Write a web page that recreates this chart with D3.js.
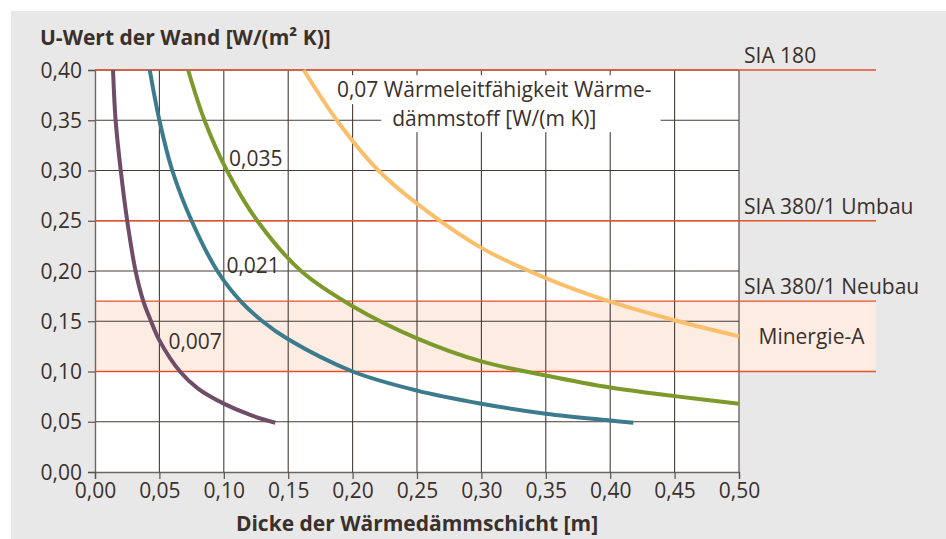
<!DOCTYPE html>
<html>
<head>
<meta charset="utf-8">
<script src="https://cdn.jsdelivr.net/npm/d3@7"></script>
<style>
  html, body { margin: 0; padding: 0; background: #ffffff; }
  svg { display: block; }
  text { font-family: "Open Sans", "Noto Sans", sans-serif; fill: #3a302c; }
</style>
</head>
<body>
<svg id="chart" width="946" height="539"></svg>
<script>
// ---------------- data ----------------
const xTickValues = [0, 0.05, 0.10, 0.15, 0.20, 0.25, 0.30, 0.35, 0.40, 0.45, 0.50];
const yTickValues = [0, 0.05, 0.10, 0.15, 0.20, 0.25, 0.30, 0.35, 0.40];

// insulation thickness [m] and U-value [W/(m2 K)] per conductivity
const seriesNames = ["0,007", "0,021", "0,035", "0,07"];
const thick007 = [0.014, 0.016, 0.020, 0.025, 0.0315, 0.0375, 0.0435, 0.050, 0.066, 0.080, 0.100, 0.120, 0.140];
const uval007  = [0.400, 0.350, 0.300, 0.250, 0.200, 0.170, 0.150, 0.131, 0.100, 0.083, 0.068, 0.057, 0.049];
const thick021 = [0.0425, 0.050, 0.060, 0.075, 0.095, 0.113, 0.130, 0.150, 0.200, 0.250, 0.300, 0.350, 0.400, 0.418];
const uval021  = [0.400, 0.350, 0.300, 0.250, 0.200, 0.170, 0.150, 0.132, 0.100, 0.081, 0.068, 0.058, 0.0512, 0.049];
const thick035 = [0.0723, 0.085, 0.1024, 0.126, 0.160, 0.200, 0.250, 0.300, 0.350, 0.400, 0.450, 0.500];
const uval035  = [0.400, 0.350, 0.300, 0.250, 0.200, 0.165, 0.133, 0.110, 0.096, 0.084, 0.0755, 0.068];
const thick07  = [0.162, 0.190, 0.220, 0.250, 0.300, 0.350, 0.400, 0.450, 0.500];
const uval07   = [0.400, 0.346, 0.300, 0.267, 0.223, 0.193, 0.1695, 0.151, 0.135];
const seriesColors = ["#6f4c68", "#3b7b8d", "#7c9a2c", "#fbbf6c"];

// limit values
const limitValues = [0.40, 0.25, 0.17, 0.10];
const limitLabels = ["SIA 180", "SIA 380/1 Umbau", "SIA 380/1 Neubau", ""];
const bandRange = [0.10, 0.17];
const bandLabel = "Minergie-A";

// label anchors in data coordinates
const seriesLabelX = [0.057, 0.102, 0.104];
const seriesLabelY = [0.122, 0.1977, 0.3045];
const noteLines = ["0,07 Wärmeleitfähigkeit Wärme-", "dämmstoff [W/(m K)]"];
const noteAnchor = [0.31, 0.373];

const yTitle = "U-Wert der Wand [W/(m² K)]";
const xTitle = "Dicke der Wärmedämmschicht [m]";

// ---------------- layout ----------------
(function () {
const svg = d3.select("#chart");
const W = 946, H = 539;
const pL = 95, pR = 739, pT = 70, pB = 472, extRight = 876;
const fs = 21;

const x = d3.scaleLinear().domain([0, 0.5]).range([pL, pR]);
const y = d3.scaleLinear().domain([0, 0.4]).range([pB, pT]);
const fmt = v => d3.format(".2f")(v).replace(".", ",");

// background
svg.append("rect").attr("x", 11).attr("y", 11).attr("width", W - 11).attr("height", H - 11).attr("fill", "#e8e8e8");
svg.append("rect").attr("x", pL).attr("y", pT).attr("width", pR - pL).attr("height", pB - pT).attr("fill", "#ffffff");

// band
svg.append("rect")
  .attr("x", pL).attr("y", y(bandRange[1]))
  .attr("width", extRight - pL).attr("height", y(bandRange[0]) - y(bandRange[1]))
  .attr("fill", "#fdece2");

// grid
const gridColor = "#463c37";
svg.append("g").selectAll("line").data(xTickValues.slice(1)).join("line")
  .attr("x1", d => x(d)).attr("x2", d => x(d)).attr("y1", pT).attr("y2", pB)
  .attr("stroke", gridColor).attr("stroke-width", 1.1);
svg.append("g").selectAll("line").data(yTickValues.slice(1)).join("line")
  .attr("x1", pL).attr("x2", pR).attr("y1", d => y(d)).attr("y2", d => y(d))
  .attr("stroke", gridColor).attr("stroke-width", 1.1);

// axes
const yAxis = svg.append("g").attr("transform", `translate(${pL},0)`)
  .call(d3.axisLeft(y).tickValues(yTickValues).tickFormat(fmt).tickSize(7).tickPadding(6));
const xAxis = svg.append("g").attr("transform", `translate(0,${pB})`)
  .call(d3.axisBottom(x).tickValues(xTickValues).tickFormat(fmt).tickSize(7).tickPadding(4));
[yAxis, xAxis].forEach(g => {
  g.select(".domain").attr("stroke", "#6d6560").attr("stroke-width", 1.4);
  g.selectAll(".tick line").attr("stroke", "#5a524d").attr("stroke-width", 1.2);
  g.selectAll(".tick text").attr("font-size", fs).attr("font-family", "Open Sans").attr("fill", "#3a302c");
});
yAxis.selectAll(".tick text").attr("dy", "0.34em");

// limit lines
svg.append("g").selectAll("line").data(limitValues).join("line")
  .attr("x1", pL).attr("x2", extRight).attr("y1", d => y(d)).attr("y2", d => y(d))
  .attr("stroke", "#e5502f").attr("stroke-width", 1.4);
svg.append("g").selectAll("text").data(limitValues).join("text")
  .attr("x", pR + 5).attr("y", d => y(d) - 7)
  .attr("font-size", fs)
  .text((d, i) => limitLabels[i]);
svg.append("text")
  .attr("x", (pR + extRight) / 2 + 4).attr("y", y((bandRange[0] + bandRange[1]) / 2))
  .attr("dy", "0.35em").attr("text-anchor", "middle").attr("font-size", fs)
  .text(bandLabel);

// annotation with white background
const noteG = svg.append("g");
const noteRects = noteG.append("g");
const t1 = noteG.append("text").attr("x", x(noteAnchor[0])).attr("y", y(noteAnchor[1]))
  .attr("text-anchor", "middle").attr("font-size", fs).text(noteLines[0]);
const t2 = noteG.append("text").attr("x", x(noteAnchor[0])).attr("y", y(noteAnchor[1]) + 29)
  .attr("text-anchor", "middle").attr("font-size", fs).text(noteLines[1]);
const b1 = t1.node().getBBox(), b2 = t2.node().getBBox();
const rEdge = Math.max(b1.x + b1.width, b2.x + b2.width) + 9;
noteRects.append("rect").attr("x", b1.x - 8).attr("y", b1.y).attr("width", rEdge - b1.x + 8).attr("height", b2.y - b1.y).attr("fill", "#fff");
noteRects.append("rect").attr("x", b2.x - 11).attr("y", b2.y).attr("width", rEdge - b2.x + 11).attr("height", b2.height).attr("fill", "#fff");

// curves
const thicks = [thick007, thick021, thick035, thick07];
const uvals = [uval007, uval021, uval035, uval07];
const line = d3.line().x(d => x(d[0])).y(d => y(d[1])).curve(d3.curveCatmullRom.alpha(0.5));
thicks.forEach((t, i) => {
  const pts = t.map((v, j) => [v, uvals[i][j]]);
  svg.append("path").datum(pts).attr("d", line)
    .attr("fill", "none").attr("stroke", seriesColors[i]).attr("stroke-width", 4);
});

// series labels
svg.append("g").selectAll("text").data(seriesLabelX).join("text")
  .attr("x", d => x(d)).attr("y", (d, i) => y(seriesLabelY[i]))
  .attr("font-size", fs)
  .text((d, i) => seriesNames[i]);

// titles
svg.append("text").attr("x", 40).attr("y", 45).attr("font-size", fs).attr("font-weight", "bold").text(yTitle);
svg.append("text").attr("x", (pL + pR) / 2).attr("y", 531).attr("text-anchor", "middle")
  .attr("font-size", fs).attr("font-weight", "bold").text(xTitle);
})();
</script>
</body>
</html>
